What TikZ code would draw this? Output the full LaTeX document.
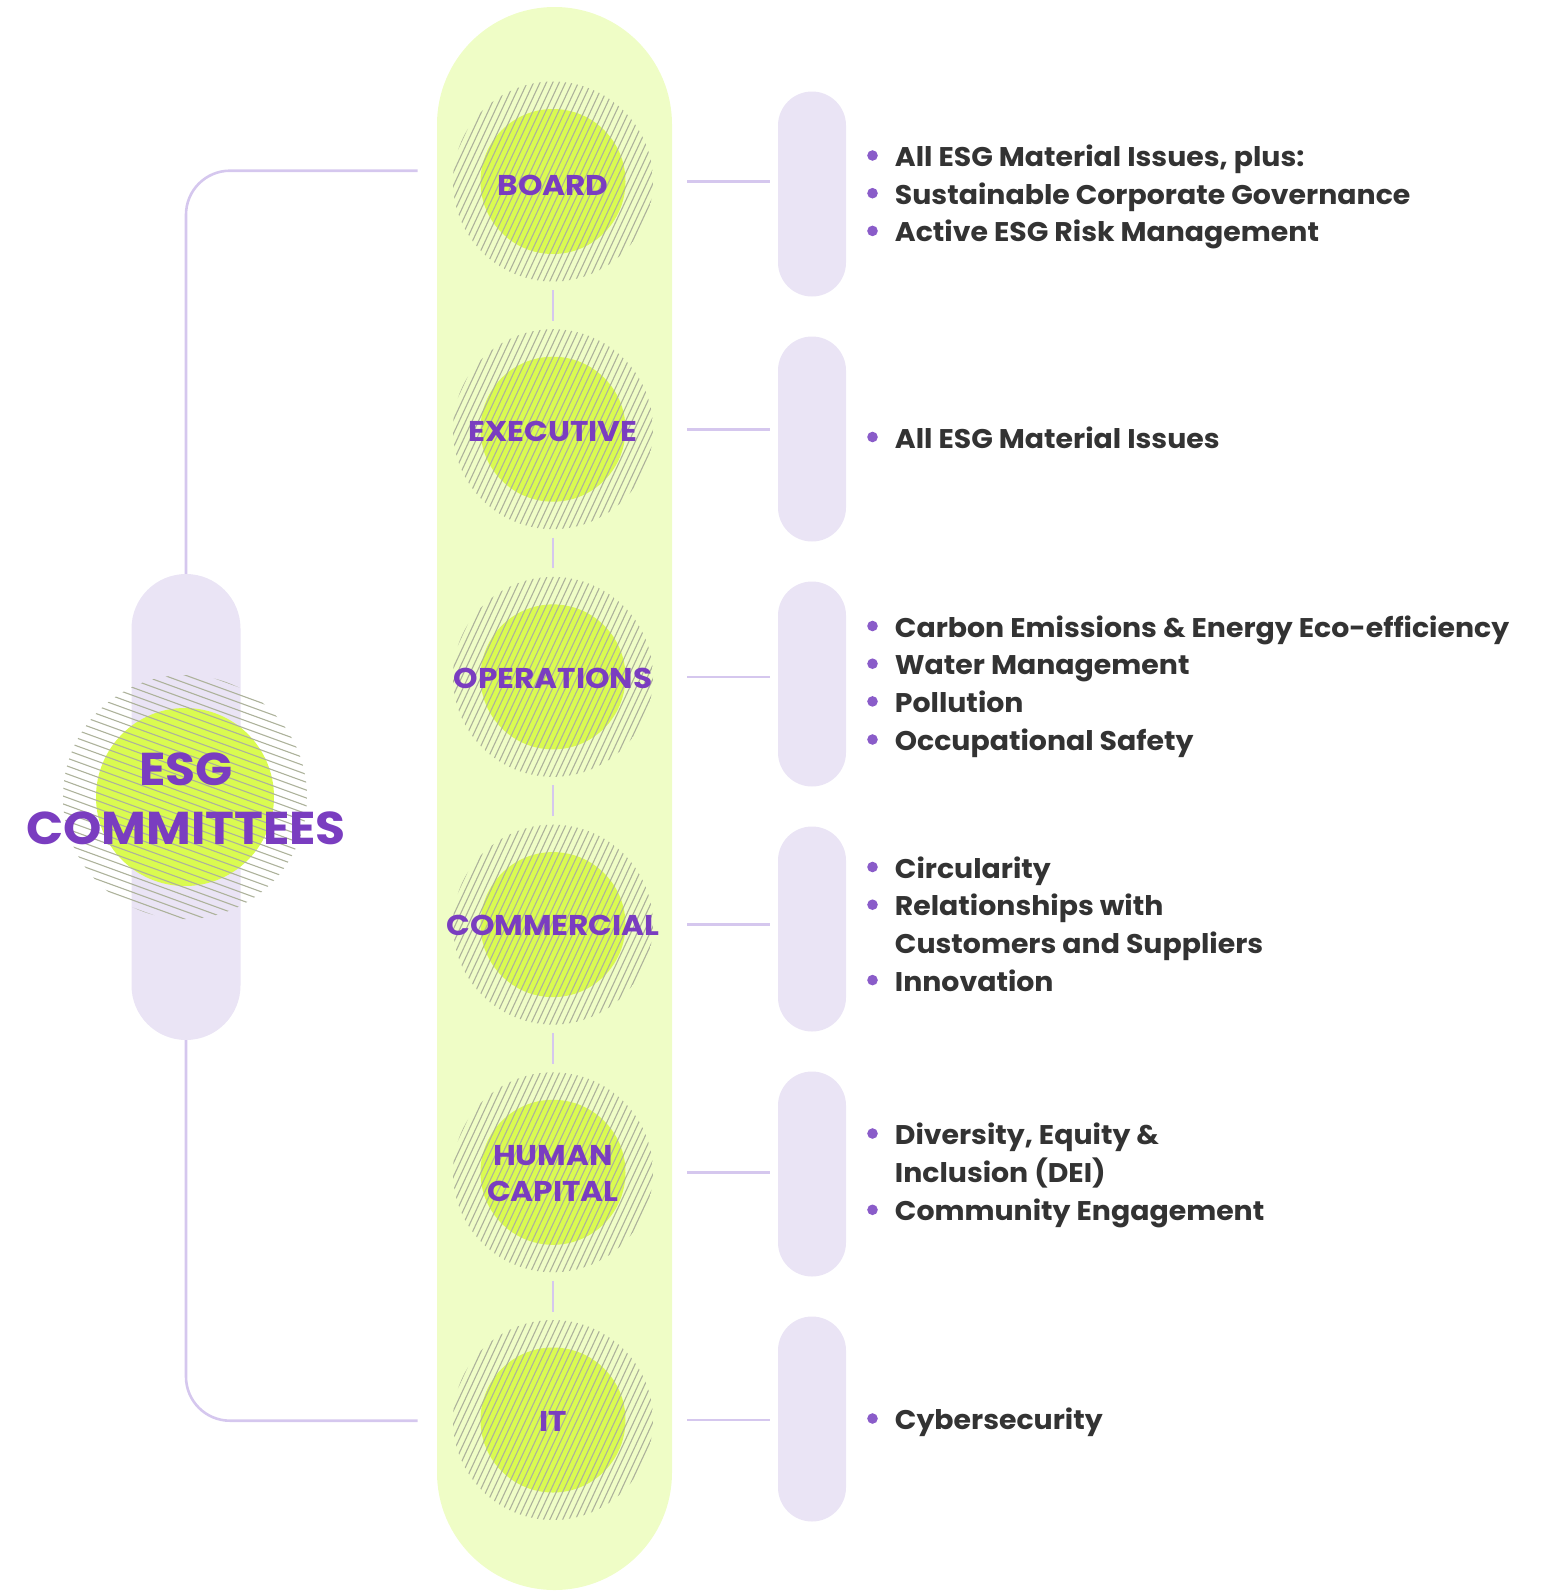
\documentclass[tikz,border=0pt]{standalone}
\usepackage{fontspec}
\setmainfont{Poppins}
\newfontfamily\bodyfont{Poppins}[FakeStretch=1.05]
\newfontfamily\labelfont{Poppins}[FakeStretch=1.09]
\newfontfamily\esgfont{Poppins}[FakeStretch=1.06]
\usetikzlibrary{calc}
\definecolor{pillgreen}{HTML}{EFFDC6}
\definecolor{limec}{HTML}{DAFB50}
\definecolor{lav}{HTML}{EAE4F5}
\definecolor{connc}{HTML}{D5C7EE}
\definecolor{purp}{HTML}{7A3DC0}
\definecolor{bul}{HTML}{8A5CC9}
\definecolor{bodyc}{HTML}{333333}
\definecolor{hatchc}{HTML}{ADB29B}
\tikzset{
  conn/.style={draw=connc, line width=2.6},
  limedisk/.style={fill=limec},
  hatchline/.style={draw=hatchc, line width=1.1},
  cmlabel/.style={circle, minimum size=200, inner sep=0, text=purp,
    font=\labelfont\bfseries\fontsize{28.6}{35.5}\selectfont, align=center},
  spinepill/.style={fill=pillgreen, rounded corners=117.5, minimum width=235, minimum height=1583, inner sep=0},
  sidepill/.style={fill=lav, rounded corners=34, minimum width=68, minimum height=205, inner sep=0},
  esgpillst/.style={fill=lav, rounded corners=54.5, minimum width=109, minimum height=466, inner sep=0},
  bodytext/.style={anchor=base west, inner sep=0, text=bodyc, font=\bodyfont\bfseries\fontsize{27}{30}\selectfont},
}
\newcommand\myBL[3]{\fill[bul] (872.5,#2-1.5) circle (5.3); \node[bodytext] (#1) at (894.7,#2+9.5) {#3};}
\newcommand\myCL[3]{\node[bodytext] (#1) at (894.7,#2+9.5) {#3};}
\newcommand\myHatch[6]{% x, y, radius, angle, spacing, count
  \begin{scope}
    \clip (#1,#2) circle (#3);
    \foreach \k in {0,...,#6}{
      \pgfmathsetmacro\hoff{-#3+\k*#5}
      \draw[hatchline, rotate around={#4:(#1,#2)}] (#1-#3-10,#2+\hoff) -- (#1+#3+10,#2+\hoff);
    }
  \end{scope}}
\begin{document}
\begin{tikzpicture}[x=1pt, y=-1pt]
\useasboundingbox (0,0) rectangle (1553,1591);
% central spine
\node[spinepill] (spine) at (554.5,798.5) {};
% committee circles
\foreach \yy in {181.5, 429.2, 676.9, 924.6, 1172.3, 1420}{
  \fill[limedisk] (553,\yy) circle (72.5);
  \myHatch{553}{\yy}{100}{65}{5.8}{34}
}
\node[cmlabel] (board) at (553,181.5) {};
\node[cmlabel] (exec) at (553,429.2) {};
\node[cmlabel] (ops) at (553,676.9) {};
\node[cmlabel] (comm) at (553,924.6) {};
\node[cmlabel] (hc) at (553,1172.3) {};
\node[cmlabel] (it) at (553,1420) {};
\node[cmlabel, minimum size=0] (boardtxt) at ($(board.center)+(0,4)$) {BOARD};
\node[cmlabel, minimum size=0] (exectxt) at ($(exec.center)+(0,2)$) {EXECUTIVE};
\node[cmlabel, minimum size=0] (opstxt) at ($(ops.center)+(0,2)$) {OPERATIONS};
\node[cmlabel, minimum size=0] (commtxt) at ($(comm.center)+(0,1)$) {COMMERCIAL};
\node[cmlabel, minimum size=0] (hctxt) at ($(hc.center)+(0,1)$) {HUMAN\\CAPITAL};
\node[cmlabel, minimum size=0] (ittxt) at ($(it.center)+(0,1.5)$) {IT};
% vertical connectors
\foreach \a/\b in {board/exec, exec/ops, ops/comm, comm/hc, hc/it}
  \draw[conn] ($(\a.south)+(0,8.3)$) -- ($(\b.north)+(0,-8.3)$);
% side pills
\node[sidepill] (rb1) at (812,194) {};
\node[sidepill] (rb2) at (812,439) {};
\node[sidepill] (rb3) at (812,684) {};
\node[sidepill] (rb4) at (812,929) {};
\node[sidepill] (rb5) at (812,1174) {};
\node[sidepill] (rb6) at (812,1419) {};
\foreach \a/\b in {board/rb1, exec/rb2, ops/rb3, comm/rb4, hc/rb5, it/rb6}
  \draw[conn] ($(\a.center)+(134,0)$) -- ($(\a.center -| \b.west)+(-8,0)$);
% left bracket
\coordinate (btop) at (417.7,170.7);
\coordinate (bbot) at (417.7,1420.7);
\node[esgpillst] (esgpill) at (186,807) {};
\draw[conn, rounded corners=44] (esgpill.north) -- (esgpill.north |- btop) -- (btop);
\draw[conn, rounded corners=44] (esgpill.south) -- (esgpill.south |- bbot) -- (bbot);
% ESG circle
\fill[limedisk] (185,797) circle (89);
\myHatch{185}{797}{122}{-20}{7.4}{33}
\node[inner sep=0, text=purp, font=\esgfont\bfseries\fontsize{46}{59.2}\selectfont, align=center] (esg) at (186,798.4) {ESG\\COMMITTEES};
% texts
\myBL{t11}{157}{All ESG Material Issues, plus:}
\myBL{t12}{194.7}{Sustainable Corporate Governance}
\myBL{t13}{232.4}{Active ESG Risk Management}
\myBL{t21}{438.5}{All ESG Material Issues}
\myBL{t31}{627.5}{Carbon Emissions \& Energy Eco-efficiency}
\myBL{t32}{665.2}{Water Management}
\myBL{t33}{702.9}{Pollution}
\myBL{t34}{741}{Occupational Safety}
\myBL{t41}{868.5}{Circularity}
\myBL{t42}{906.2}{Relationships with}
\myCL{t43}{943.9}{Customers and Suppliers}
\myBL{t44}{981.6}{Innovation}
\myBL{t51}{1135}{Diversity, Equity \&}
\myCL{t52}{1173.3}{Inclusion (DEI)}
\myBL{t53}{1211.3}{Community Engagement}
\myBL{t61}{1420}{Cybersecurity}
\end{tikzpicture}
\end{document}
